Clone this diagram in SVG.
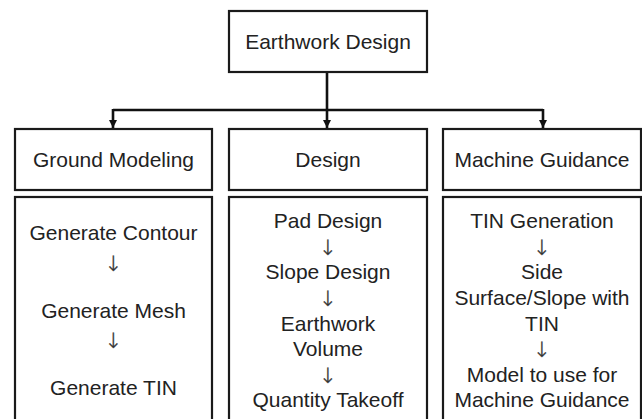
<svg xmlns="http://www.w3.org/2000/svg" width="642" height="419" viewBox="0 0 642 419">
<defs>
<style>
.box{fill:#fff;stroke:#1a1a1a;stroke-width:2.2}
.t{font-family:"Liberation Sans",Arial,Helvetica,sans-serif;font-size:21px;fill:#222;text-anchor:middle}
.a{font-family:"DejaVu Sans","Noto Sans",sans-serif;font-weight:200;font-size:21px;fill:#333;stroke:#333;stroke-width:0.35;text-anchor:middle}
.c{fill:none;stroke:#111;stroke-width:2.6}
</style>
<marker id="ah" viewBox="0 0 10 10" refX="10" refY="5" markerWidth="3.2" markerHeight="3.2" orient="auto" markerUnits="strokeWidth">
<path d="M0,0 L10,5 L0,10 z" fill="#111"/>
</marker>
</defs>
<rect width="642" height="419" fill="#fff"/>
<g id="connectors">
<path class="c" d="M327,72 V128" marker-end="url(#ah)"/>
<path class="c" d="M113,110 H543"/>
<path class="c" d="M113,109 V128" marker-end="url(#ah)"/>
<path class="c" d="M543,109 V128" marker-end="url(#ah)"/>
</g>
<g id="earthwork-design">
<rect class="box" x="229" y="11" width="198" height="61"/>
<text class="t" x="328" y="49">Earthwork Design</text>
</g>
<g id="ground-modeling">
<rect class="box" x="15" y="129" width="197" height="61"/>
<text class="t" x="113.5" y="167">Ground Modeling</text>
</g>
<g id="design">
<rect class="box" x="229" y="129" width="198" height="61"/>
<text class="t" x="328" y="167">Design</text>
</g>
<g id="machine-guidance">
<rect class="box" x="443" y="129" width="198" height="61"/>
<text class="t" x="542" y="167">Machine Guidance</text>
</g>
<g id="ground-modeling-steps">
<rect class="box" x="15" y="197" width="197" height="240"/>
<text class="t" x="113.5" y="240">Generate Contour</text>
<text class="a" x="113.5" y="271">↓</text>
<text class="t" x="113.5" y="318">Generate Mesh</text>
<text class="a" x="113.5" y="348">↓</text>
<text class="t" x="113.5" y="395">Generate TIN</text>
</g>
<g id="design-steps">
<rect class="box" x="229" y="197" width="198" height="240"/>
<text class="t" x="328" y="228">Pad Design</text>
<text class="a" x="328" y="255">↓</text>
<text class="t" x="328" y="279">Slope Design</text>
<text class="a" x="328" y="306">↓</text>
<text class="t" x="328" y="331">Earthwork</text>
<text class="t" x="328" y="356">Volume</text>
<text class="a" x="328" y="383">↓</text>
<text class="t" x="328" y="407">Quantity Takeoff</text>
</g>
<g id="machine-guidance-steps">
<rect class="box" x="443" y="197" width="198" height="240"/>
<text class="t" x="542" y="228">TIN Generation</text>
<text class="a" x="542" y="255">↓</text>
<text class="t" x="542" y="279">Side</text>
<text class="t" x="542" y="305">Surface/Slope with</text>
<text class="t" x="542" y="331">TIN</text>
<text class="a" x="542" y="357">↓</text>
<text class="t" x="542" y="382">Model to use for</text>
<text class="t" x="542" y="407">Machine Guidance</text>
</g>
</svg>
